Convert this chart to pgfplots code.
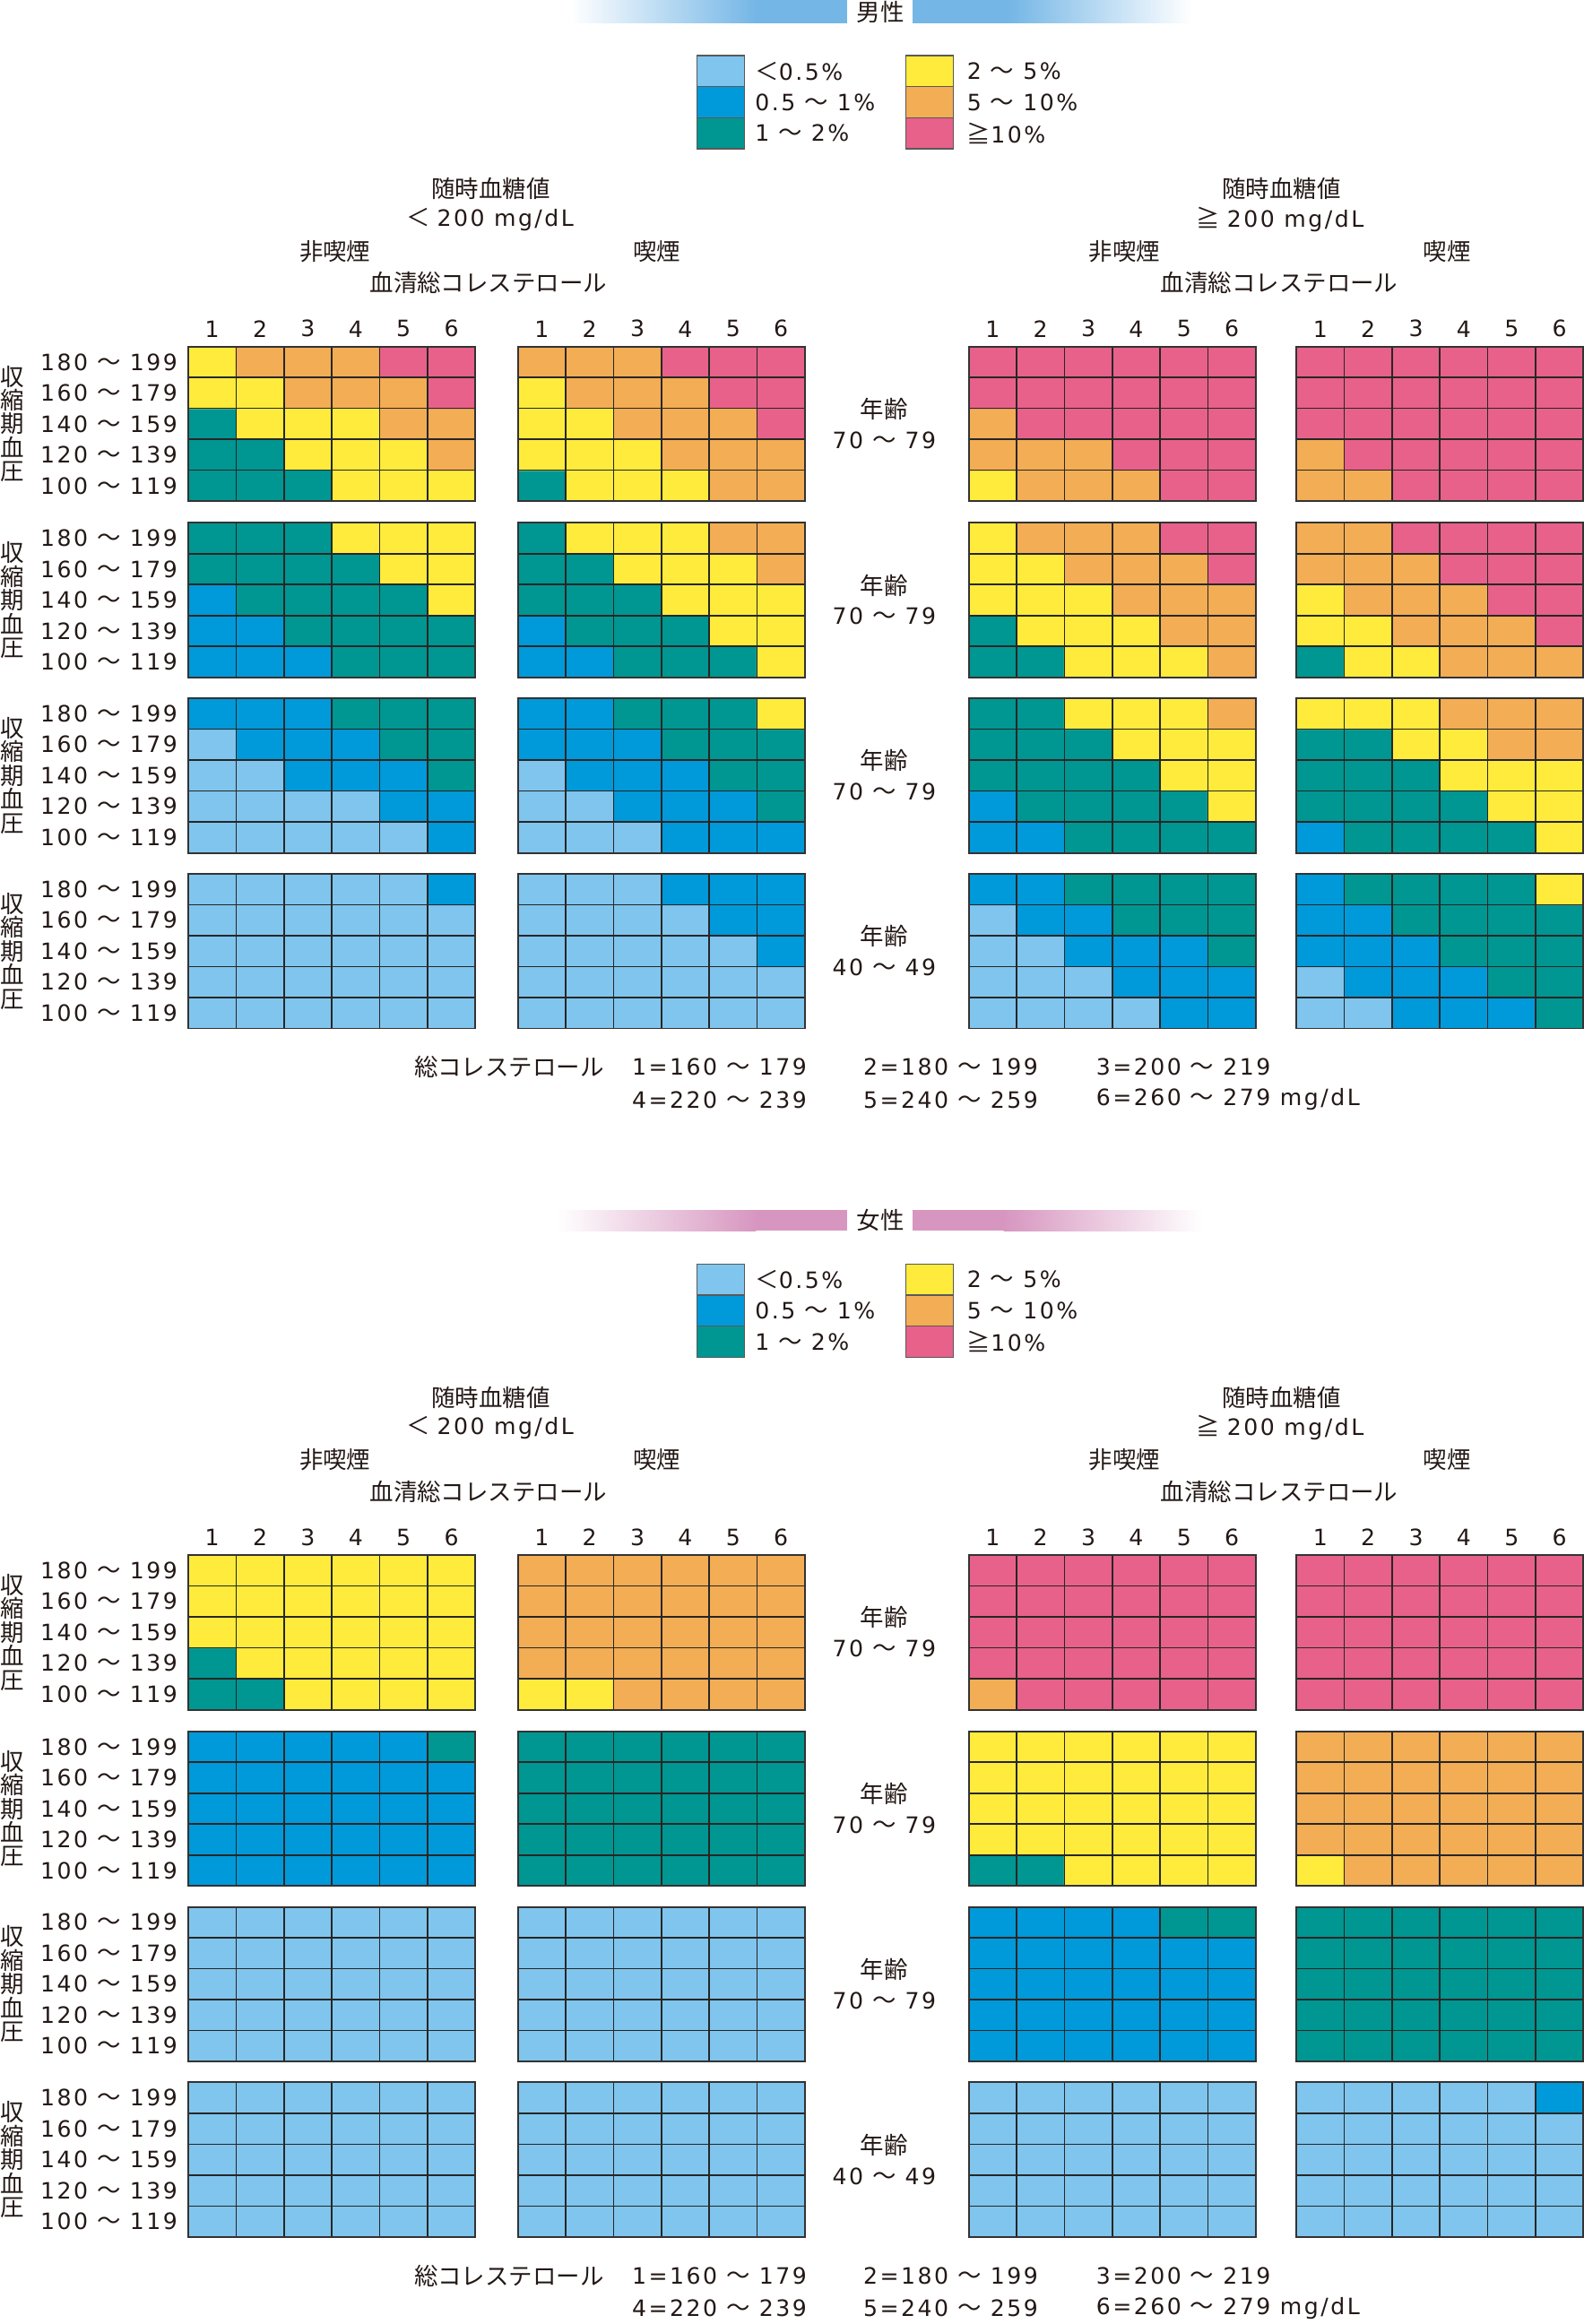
\documentclass[border=0pt]{standalone}
\usepackage{fontspec}
\setmainfont{Noto Sans CJK JP}
\newfontfamily\dnum[Scale=0.95,LetterSpace=10]{DejaVu Sans}
\usepackage{pgfplots}
\pgfplotsset{compat=1.18}
\definecolor{c0}{RGB}{128,197,237}
\definecolor{c1}{RGB}{0,153,217}
\definecolor{c2}{RGB}{0,150,145}
\definecolor{c3}{RGB}{255,235,59}
\definecolor{c4}{RGB}{243,173,84}
\definecolor{c5}{RGB}{232,97,138}
\definecolor{txt}{RGB}{35,24,21}
\definecolor{mblue}{RGB}{116,182,230}
\definecolor{fpink}{RGB}{215,150,192}
\protected\def\rng#1#2{{\dnum #1}\hspace{0.38em}～\hspace{0.38em}{\dnum #2}}
\pgfplotsset{
 colormap={risk}{rgb255=(128,197,237) rgb255=(0,153,217) rgb255=(0,150,145) rgb255=(255,235,59) rgb255=(243,173,84) rgb255=(232,97,138)},
 cellax/.style={
   scale only axis, width=96.8pt, height=52.15pt, anchor=north west,
   xmin=0.5, xmax=6.5, ymin=0.5, ymax=5.5,
   axis on top,
   xtick={1.5,2.5,3.5,4.5,5.5}, ytick={1.5,2.5,3.5,4.5},
   xticklabels={}, yticklabels={},
   major tick length=0pt, tick style={draw=none},
   grid=major, major grid style={draw=black!85, line width=0.5pt},
   axis line style={draw=black!80, line width=0.6pt},
   colormap name=risk, colormap access=direct,
   point meta min=0, point meta max=5,
   tick label style={font=\fontsize{8}{9.6}\selectfont, text=txt},
 },
 topnums/.style={xticklabel pos=upper,
   extra x ticks={1,2,3,4,5,6}, extra x tick labels={1,2,3,4,5,6},
   extra x tick style={grid=none, xticklabel style={font=\fontsize{8}{9.6}\selectfont\dnum, inner sep=0pt, yshift=3pt}}},
 rowlabs/.style={
   extra y ticks={1,2,3,4,5},
   extra y tick labels={{\rng{100}{119}},{\rng{120}{139}},{\rng{140}{159}},{\rng{160}{179}},{\rng{180}{199}}},
   extra y tick style={grid=none, yticklabel style={inner sep=0pt, xshift=-3.5pt}}},
 cells/.style={matrix plot*, mesh/cols=6, point meta=explicit},
}
\begin{document}
\begin{tikzpicture}[x=0.5pt,y=0.5pt, T/.style={inner sep=0pt, text=txt, font=\fontsize{8}{9.6}\selectfont}]
\useasboundingbox (0,0) rectangle (1068,-1568);
% ---- title bars
\shade[left color=white, right color=mblue] (385,0) rectangle (510,-15.7);
\fill[mblue] (509.5,0) rectangle (571.5,-15.7);
\fill[mblue] (615.6,0) rectangle (680.5,-15.7);
\shade[left color=mblue, right color=white] (680,0) rectangle (804,-15.7);
\node[T] at (594,-8) {男性};
\shade[left color=white, right color=fpink] (376,-816.4) rectangle (510,-830.5);
\fill[fpink] (509.5,-816.4) rectangle (571.5,-830.5);
\fill[fpink] (615.6,-816.4) rectangle (677.5,-830.5);
\shade[left color=fpink, right color=white] (677,-816.4) rectangle (811,-830.5);
\node[T] at (594,-823.4) {女性};
\foreach \o in {0,815.4}{
  % legend
  \fill[c0] (470,{-37.4-\o}) rectangle (502,{-58.4-\o});
  \fill[c1] (470,{-58.4-\o}) rectangle (502,{-79.4-\o});
  \fill[c2] (470,{-79.4-\o}) rectangle (502,{-100.4-\o});
  \fill[c3] (611,{-37.4-\o}) rectangle (643,{-58.4-\o});
  \fill[c4] (611,{-58.4-\o}) rectangle (643,{-79.4-\o});
  \fill[c5] (611,{-79.4-\o}) rectangle (643,{-100.4-\o});
  \draw[black!65, line width=0.4pt] (470,{-37.4-\o}) rectangle (502,{-100.4-\o}) (470,{-58.4-\o}) -- (502,{-58.4-\o}) (470,{-79.4-\o}) -- (502,{-79.4-\o});
  \draw[black!65, line width=0.4pt] (611,{-37.4-\o}) rectangle (643,{-100.4-\o}) (611,{-58.4-\o}) -- (643,{-58.4-\o}) (611,{-79.4-\o}) -- (643,{-79.4-\o});
  \node[T,anchor=west] at (509,{-47.9-\o}) {＜{\dnum 0.5\%}};
  \node[T,anchor=west] at (509,{-68.9-\o}) {\rng{0.5}{1\%}};
  \node[T,anchor=west] at (509,{-89.9-\o}) {\rng{1}{2\%}};
  \node[T,anchor=west] at (652,{-47.9-\o}) {\rng{2}{5\%}};
  \node[T,anchor=west] at (652,{-68.9-\o}) {\rng{5}{10\%}};
  \node[T,anchor=west] at (652,{-89.9-\o}) {≧{\dnum 10\%}};
  % headers
  \node[T] at (331,{-127.5-\o}) {随時血糖値};
  \node[T] at (330.5,{-148-\o}) {＜\hspace{0.3em}{\dnum 200 mg/dL}};
  \node[T] at (226,{-169.5-\o}) {非喫煙};
  \node[T] at (443,{-169.5-\o}) {喫煙};
  \node[T] at (329.5,{-191-\o}) {血清総コレステロール};
  \node[T] at (864.5,{-127.5-\o}) {随時血糖値};
  \node[T] at (863.5,{-148-\o}) {≧\hspace{0.3em}{\dnum 200 mg/dL}};
  \node[T] at (758.5,{-169.5-\o}) {非喫煙};
  \node[T] at (976,{-169.5-\o}) {喫煙};
  \node[T] at (863,{-191-\o}) {血清総コレステロール};
  % vertical labels
  \foreach \c in {286,404.9,523.3,641.8}{
    \node[T, align=center, font=\fontsize{8}{8}\selectfont] at (8,{-\c-\o}) {収\\縮\\期\\血\\圧};
  }
  % age labels
  \node[T] at (596.5,{-276-\o}) {年齢};
  \node[T] at (596.5,{-297-\o}) {\rng{70}{79}};
  \node[T] at (596.5,{-394.9-\o}) {年齢};
  \node[T] at (596.5,{-415.9-\o}) {\rng{70}{79}};
  \node[T] at (596.5,{-513.3-\o}) {年齢};
  \node[T] at (596.5,{-534.3-\o}) {\rng{70}{79}};
  \node[T] at (596.5,{-631.8-\o}) {年齢};
  \node[T] at (596.5,{-652.8-\o}) {\rng{40}{49}};
  % footnote
  \node[T,anchor=west] at (279,{-720-\o}) {総コレステロール};
  \node[T,anchor=west] at (426,{-720-\o}) {\rng{1=160}{179}};
  \node[T,anchor=west] at (582,{-720-\o}) {\rng{2=180}{199}};
  \node[T,anchor=west] at (739,{-720-\o}) {\rng{3=200}{219}};
  \node[T,anchor=west] at (426,{-742-\o}) {\rng{4=220}{239}};
  \node[T,anchor=west] at (582,{-742-\o}) {\rng{5=240}{259}};
  \node[T,anchor=west] at (739,{-742-\o}) {\rng{6=260}{279 mg/dL}};
}
% ================= MALE =================
% row 1
\begin{axis}[cellax,topnums,rowlabs,at={(63.5pt,-116.9pt)}]
\addplot[cells] coordinates {
(1,1)[2] (2,1)[2] (3,1)[2] (4,1)[3] (5,1)[3] (6,1)[3]
(1,2)[2] (2,2)[2] (3,2)[3] (4,2)[3] (5,2)[3] (6,2)[4]
(1,3)[2] (2,3)[3] (3,3)[3] (4,3)[3] (5,3)[4] (6,3)[4]
(1,4)[3] (2,4)[3] (3,4)[4] (4,4)[4] (5,4)[4] (6,4)[5]
(1,5)[3] (2,5)[4] (3,5)[4] (4,5)[4] (5,5)[5] (6,5)[5]};
\end{axis}
\begin{axis}[cellax,topnums,at={(174.65pt,-116.9pt)}]
\addplot[cells] coordinates {
(1,1)[2] (2,1)[3] (3,1)[3] (4,1)[3] (5,1)[4] (6,1)[4]
(1,2)[3] (2,2)[3] (3,2)[3] (4,2)[4] (5,2)[4] (6,2)[4]
(1,3)[3] (2,3)[3] (3,3)[4] (4,3)[4] (5,3)[4] (6,3)[5]
(1,4)[3] (2,4)[4] (3,4)[4] (4,4)[4] (5,4)[5] (6,4)[5]
(1,5)[4] (2,5)[4] (3,5)[4] (4,5)[5] (5,5)[5] (6,5)[5]};
\end{axis}
\begin{axis}[cellax,topnums,at={(326.75pt,-116.9pt)}]
\addplot[cells] coordinates {
(1,1)[3] (2,1)[4] (3,1)[4] (4,1)[4] (5,1)[5] (6,1)[5]
(1,2)[4] (2,2)[4] (3,2)[4] (4,2)[5] (5,2)[5] (6,2)[5]
(1,3)[4] (2,3)[5] (3,3)[5] (4,3)[5] (5,3)[5] (6,3)[5]
(1,4)[5] (2,4)[5] (3,4)[5] (4,4)[5] (5,4)[5] (6,4)[5]
(1,5)[5] (2,5)[5] (3,5)[5] (4,5)[5] (5,5)[5] (6,5)[5]};
\end{axis}
\begin{axis}[cellax,topnums,at={(437.25pt,-116.9pt)}]
\addplot[cells] coordinates {
(1,1)[4] (2,1)[4] (3,1)[5] (4,1)[5] (5,1)[5] (6,1)[5]
(1,2)[4] (2,2)[5] (3,2)[5] (4,2)[5] (5,2)[5] (6,2)[5]
(1,3)[5] (2,3)[5] (3,3)[5] (4,3)[5] (5,3)[5] (6,3)[5]
(1,4)[5] (2,4)[5] (3,4)[5] (4,4)[5] (5,4)[5] (6,4)[5]
(1,5)[5] (2,5)[5] (3,5)[5] (4,5)[5] (5,5)[5] (6,5)[5]};
\end{axis}
% row 2
\begin{axis}[cellax,rowlabs,at={(63.5pt,-176.35pt)}]
\addplot[cells] coordinates {
(1,1)[1] (2,1)[1] (3,1)[1] (4,1)[2] (5,1)[2] (6,1)[2]
(1,2)[1] (2,2)[1] (3,2)[2] (4,2)[2] (5,2)[2] (6,2)[2]
(1,3)[1] (2,3)[2] (3,3)[2] (4,3)[2] (5,3)[2] (6,3)[3]
(1,4)[2] (2,4)[2] (3,4)[2] (4,4)[2] (5,4)[3] (6,4)[3]
(1,5)[2] (2,5)[2] (3,5)[2] (4,5)[3] (5,5)[3] (6,5)[3]};
\end{axis}
\begin{axis}[cellax,at={(174.65pt,-176.35pt)}]
\addplot[cells] coordinates {
(1,1)[1] (2,1)[1] (3,1)[2] (4,1)[2] (5,1)[2] (6,1)[3]
(1,2)[1] (2,2)[2] (3,2)[2] (4,2)[2] (5,2)[3] (6,2)[3]
(1,3)[2] (2,3)[2] (3,3)[2] (4,3)[3] (5,3)[3] (6,3)[3]
(1,4)[2] (2,4)[2] (3,4)[3] (4,4)[3] (5,4)[3] (6,4)[4]
(1,5)[2] (2,5)[3] (3,5)[3] (4,5)[3] (5,5)[4] (6,5)[4]};
\end{axis}
\begin{axis}[cellax,at={(326.75pt,-176.35pt)}]
\addplot[cells] coordinates {
(1,1)[2] (2,1)[2] (3,1)[3] (4,1)[3] (5,1)[3] (6,1)[4]
(1,2)[2] (2,2)[3] (3,2)[3] (4,2)[3] (5,2)[4] (6,2)[4]
(1,3)[3] (2,3)[3] (3,3)[3] (4,3)[4] (5,3)[4] (6,3)[4]
(1,4)[3] (2,4)[3] (3,4)[4] (4,4)[4] (5,4)[4] (6,4)[5]
(1,5)[3] (2,5)[4] (3,5)[4] (4,5)[4] (5,5)[5] (6,5)[5]};
\end{axis}
\begin{axis}[cellax,at={(437.25pt,-176.35pt)}]
\addplot[cells] coordinates {
(1,1)[2] (2,1)[3] (3,1)[3] (4,1)[4] (5,1)[4] (6,1)[4]
(1,2)[3] (2,2)[3] (3,2)[4] (4,2)[4] (5,2)[4] (6,2)[5]
(1,3)[3] (2,3)[4] (3,3)[4] (4,3)[4] (5,3)[5] (6,3)[5]
(1,4)[4] (2,4)[4] (3,4)[4] (4,4)[5] (5,4)[5] (6,4)[5]
(1,5)[4] (2,5)[4] (3,5)[5] (4,5)[5] (5,5)[5] (6,5)[5]};
\end{axis}
% row 3
\begin{axis}[cellax,rowlabs,at={(63.5pt,-235.55pt)}]
\addplot[cells] coordinates {
(1,1)[0] (2,1)[0] (3,1)[0] (4,1)[0] (5,1)[0] (6,1)[1]
(1,2)[0] (2,2)[0] (3,2)[0] (4,2)[0] (5,2)[1] (6,2)[1]
(1,3)[0] (2,3)[0] (3,3)[1] (4,3)[1] (5,3)[1] (6,3)[2]
(1,4)[0] (2,4)[1] (3,4)[1] (4,4)[1] (5,4)[2] (6,4)[2]
(1,5)[1] (2,5)[1] (3,5)[1] (4,5)[2] (5,5)[2] (6,5)[2]};
\end{axis}
\begin{axis}[cellax,at={(174.65pt,-235.55pt)}]
\addplot[cells] coordinates {
(1,1)[0] (2,1)[0] (3,1)[0] (4,1)[1] (5,1)[1] (6,1)[1]
(1,2)[0] (2,2)[0] (3,2)[1] (4,2)[1] (5,2)[1] (6,2)[2]
(1,3)[0] (2,3)[1] (3,3)[1] (4,3)[1] (5,3)[2] (6,3)[2]
(1,4)[1] (2,4)[1] (3,4)[1] (4,4)[2] (5,4)[2] (6,4)[2]
(1,5)[1] (2,5)[1] (3,5)[2] (4,5)[2] (5,5)[2] (6,5)[3]};
\end{axis}
\begin{axis}[cellax,at={(326.75pt,-235.55pt)}]
\addplot[cells] coordinates {
(1,1)[1] (2,1)[1] (3,1)[2] (4,1)[2] (5,1)[2] (6,1)[2]
(1,2)[1] (2,2)[2] (3,2)[2] (4,2)[2] (5,2)[2] (6,2)[3]
(1,3)[2] (2,3)[2] (3,3)[2] (4,3)[2] (5,3)[3] (6,3)[3]
(1,4)[2] (2,4)[2] (3,4)[2] (4,4)[3] (5,4)[3] (6,4)[3]
(1,5)[2] (2,5)[2] (3,5)[3] (4,5)[3] (5,5)[3] (6,5)[4]};
\end{axis}
\begin{axis}[cellax,at={(437.25pt,-235.55pt)}]
\addplot[cells] coordinates {
(1,1)[1] (2,1)[2] (3,1)[2] (4,1)[2] (5,1)[2] (6,1)[3]
(1,2)[2] (2,2)[2] (3,2)[2] (4,2)[2] (5,2)[3] (6,2)[3]
(1,3)[2] (2,3)[2] (3,3)[2] (4,3)[3] (5,3)[3] (6,3)[3]
(1,4)[2] (2,4)[2] (3,4)[3] (4,4)[3] (5,4)[4] (6,4)[4]
(1,5)[3] (2,5)[3] (3,5)[3] (4,5)[4] (5,5)[4] (6,5)[4]};
\end{axis}
% row 4
\begin{axis}[cellax,rowlabs,at={(63.5pt,-294.8pt)}]
\addplot[cells] coordinates {
(1,1)[0] (2,1)[0] (3,1)[0] (4,1)[0] (5,1)[0] (6,1)[0]
(1,2)[0] (2,2)[0] (3,2)[0] (4,2)[0] (5,2)[0] (6,2)[0]
(1,3)[0] (2,3)[0] (3,3)[0] (4,3)[0] (5,3)[0] (6,3)[0]
(1,4)[0] (2,4)[0] (3,4)[0] (4,4)[0] (5,4)[0] (6,4)[0]
(1,5)[0] (2,5)[0] (3,5)[0] (4,5)[0] (5,5)[0] (6,5)[1]};
\end{axis}
\begin{axis}[cellax,at={(174.65pt,-294.8pt)}]
\addplot[cells] coordinates {
(1,1)[0] (2,1)[0] (3,1)[0] (4,1)[0] (5,1)[0] (6,1)[0]
(1,2)[0] (2,2)[0] (3,2)[0] (4,2)[0] (5,2)[0] (6,2)[0]
(1,3)[0] (2,3)[0] (3,3)[0] (4,3)[0] (5,3)[0] (6,3)[1]
(1,4)[0] (2,4)[0] (3,4)[0] (4,4)[0] (5,4)[1] (6,4)[1]
(1,5)[0] (2,5)[0] (3,5)[0] (4,5)[1] (5,5)[1] (6,5)[1]};
\end{axis}
\begin{axis}[cellax,at={(326.75pt,-294.8pt)}]
\addplot[cells] coordinates {
(1,1)[0] (2,1)[0] (3,1)[0] (4,1)[0] (5,1)[1] (6,1)[1]
(1,2)[0] (2,2)[0] (3,2)[0] (4,2)[1] (5,2)[1] (6,2)[1]
(1,3)[0] (2,3)[0] (3,3)[1] (4,3)[1] (5,3)[1] (6,3)[2]
(1,4)[0] (2,4)[1] (3,4)[1] (4,4)[2] (5,4)[2] (6,4)[2]
(1,5)[1] (2,5)[1] (3,5)[2] (4,5)[2] (5,5)[2] (6,5)[2]};
\end{axis}
\begin{axis}[cellax,at={(437.25pt,-294.8pt)}]
\addplot[cells] coordinates {
(1,1)[0] (2,1)[0] (3,1)[1] (4,1)[1] (5,1)[1] (6,1)[2]
(1,2)[0] (2,2)[1] (3,2)[1] (4,2)[1] (5,2)[2] (6,2)[2]
(1,3)[1] (2,3)[1] (3,3)[1] (4,3)[2] (5,3)[2] (6,3)[2]
(1,4)[1] (2,4)[1] (3,4)[2] (4,4)[2] (5,4)[2] (6,4)[2]
(1,5)[1] (2,5)[2] (3,5)[2] (4,5)[2] (5,5)[2] (6,5)[3]};
\end{axis}
% ================= FEMALE =================
% row 1
\begin{axis}[cellax,topnums,rowlabs,at={(63.5pt,-524.6pt)}]
\addplot[cells] coordinates {
(1,1)[2] (2,1)[2] (3,1)[3] (4,1)[3] (5,1)[3] (6,1)[3]
(1,2)[2] (2,2)[3] (3,2)[3] (4,2)[3] (5,2)[3] (6,2)[3]
(1,3)[3] (2,3)[3] (3,3)[3] (4,3)[3] (5,3)[3] (6,3)[3]
(1,4)[3] (2,4)[3] (3,4)[3] (4,4)[3] (5,4)[3] (6,4)[3]
(1,5)[3] (2,5)[3] (3,5)[3] (4,5)[3] (5,5)[3] (6,5)[3]};
\end{axis}
\begin{axis}[cellax,topnums,at={(174.65pt,-524.6pt)}]
\addplot[cells] coordinates {
(1,1)[3] (2,1)[3] (3,1)[4] (4,1)[4] (5,1)[4] (6,1)[4]
(1,2)[4] (2,2)[4] (3,2)[4] (4,2)[4] (5,2)[4] (6,2)[4]
(1,3)[4] (2,3)[4] (3,3)[4] (4,3)[4] (5,3)[4] (6,3)[4]
(1,4)[4] (2,4)[4] (3,4)[4] (4,4)[4] (5,4)[4] (6,4)[4]
(1,5)[4] (2,5)[4] (3,5)[4] (4,5)[4] (5,5)[4] (6,5)[4]};
\end{axis}
\begin{axis}[cellax,topnums,at={(326.75pt,-524.6pt)}]
\addplot[cells] coordinates {
(1,1)[4] (2,1)[5] (3,1)[5] (4,1)[5] (5,1)[5] (6,1)[5]
(1,2)[5] (2,2)[5] (3,2)[5] (4,2)[5] (5,2)[5] (6,2)[5]
(1,3)[5] (2,3)[5] (3,3)[5] (4,3)[5] (5,3)[5] (6,3)[5]
(1,4)[5] (2,4)[5] (3,4)[5] (4,4)[5] (5,4)[5] (6,4)[5]
(1,5)[5] (2,5)[5] (3,5)[5] (4,5)[5] (5,5)[5] (6,5)[5]};
\end{axis}
\begin{axis}[cellax,topnums,at={(437.25pt,-524.6pt)}]
\addplot[cells] coordinates {
(1,1)[5] (2,1)[5] (3,1)[5] (4,1)[5] (5,1)[5] (6,1)[5]
(1,2)[5] (2,2)[5] (3,2)[5] (4,2)[5] (5,2)[5] (6,2)[5]
(1,3)[5] (2,3)[5] (3,3)[5] (4,3)[5] (5,3)[5] (6,3)[5]
(1,4)[5] (2,4)[5] (3,4)[5] (4,4)[5] (5,4)[5] (6,4)[5]
(1,5)[5] (2,5)[5] (3,5)[5] (4,5)[5] (5,5)[5] (6,5)[5]};
\end{axis}
% row 2
\begin{axis}[cellax,rowlabs,at={(63.5pt,-584.05pt)}]
\addplot[cells] coordinates {
(1,1)[1] (2,1)[1] (3,1)[1] (4,1)[1] (5,1)[1] (6,1)[1]
(1,2)[1] (2,2)[1] (3,2)[1] (4,2)[1] (5,2)[1] (6,2)[1]
(1,3)[1] (2,3)[1] (3,3)[1] (4,3)[1] (5,3)[1] (6,3)[1]
(1,4)[1] (2,4)[1] (3,4)[1] (4,4)[1] (5,4)[1] (6,4)[1]
(1,5)[1] (2,5)[1] (3,5)[1] (4,5)[1] (5,5)[1] (6,5)[2]};
\end{axis}
\begin{axis}[cellax,at={(174.65pt,-584.05pt)}]
\addplot[cells] coordinates {
(1,1)[2] (2,1)[2] (3,1)[2] (4,1)[2] (5,1)[2] (6,1)[2]
(1,2)[2] (2,2)[2] (3,2)[2] (4,2)[2] (5,2)[2] (6,2)[2]
(1,3)[2] (2,3)[2] (3,3)[2] (4,3)[2] (5,3)[2] (6,3)[2]
(1,4)[2] (2,4)[2] (3,4)[2] (4,4)[2] (5,4)[2] (6,4)[2]
(1,5)[2] (2,5)[2] (3,5)[2] (4,5)[2] (5,5)[2] (6,5)[2]};
\end{axis}
\begin{axis}[cellax,at={(326.75pt,-584.05pt)}]
\addplot[cells] coordinates {
(1,1)[2] (2,1)[2] (3,1)[3] (4,1)[3] (5,1)[3] (6,1)[3]
(1,2)[3] (2,2)[3] (3,2)[3] (4,2)[3] (5,2)[3] (6,2)[3]
(1,3)[3] (2,3)[3] (3,3)[3] (4,3)[3] (5,3)[3] (6,3)[3]
(1,4)[3] (2,4)[3] (3,4)[3] (4,4)[3] (5,4)[3] (6,4)[3]
(1,5)[3] (2,5)[3] (3,5)[3] (4,5)[3] (5,5)[3] (6,5)[3]};
\end{axis}
\begin{axis}[cellax,at={(437.25pt,-584.05pt)}]
\addplot[cells] coordinates {
(1,1)[3] (2,1)[4] (3,1)[4] (4,1)[4] (5,1)[4] (6,1)[4]
(1,2)[4] (2,2)[4] (3,2)[4] (4,2)[4] (5,2)[4] (6,2)[4]
(1,3)[4] (2,3)[4] (3,3)[4] (4,3)[4] (5,3)[4] (6,3)[4]
(1,4)[4] (2,4)[4] (3,4)[4] (4,4)[4] (5,4)[4] (6,4)[4]
(1,5)[4] (2,5)[4] (3,5)[4] (4,5)[4] (5,5)[4] (6,5)[4]};
\end{axis}
% row 3
\begin{axis}[cellax,rowlabs,at={(63.5pt,-643.25pt)}]
\addplot[cells] coordinates {
(1,1)[0] (2,1)[0] (3,1)[0] (4,1)[0] (5,1)[0] (6,1)[0]
(1,2)[0] (2,2)[0] (3,2)[0] (4,2)[0] (5,2)[0] (6,2)[0]
(1,3)[0] (2,3)[0] (3,3)[0] (4,3)[0] (5,3)[0] (6,3)[0]
(1,4)[0] (2,4)[0] (3,4)[0] (4,4)[0] (5,4)[0] (6,4)[0]
(1,5)[0] (2,5)[0] (3,5)[0] (4,5)[0] (5,5)[0] (6,5)[0]};
\end{axis}
\begin{axis}[cellax,at={(174.65pt,-643.25pt)}]
\addplot[cells] coordinates {
(1,1)[0] (2,1)[0] (3,1)[0] (4,1)[0] (5,1)[0] (6,1)[0]
(1,2)[0] (2,2)[0] (3,2)[0] (4,2)[0] (5,2)[0] (6,2)[0]
(1,3)[0] (2,3)[0] (3,3)[0] (4,3)[0] (5,3)[0] (6,3)[0]
(1,4)[0] (2,4)[0] (3,4)[0] (4,4)[0] (5,4)[0] (6,4)[0]
(1,5)[0] (2,5)[0] (3,5)[0] (4,5)[0] (5,5)[0] (6,5)[0]};
\end{axis}
\begin{axis}[cellax,at={(326.75pt,-643.25pt)}]
\addplot[cells] coordinates {
(1,1)[1] (2,1)[1] (3,1)[1] (4,1)[1] (5,1)[1] (6,1)[1]
(1,2)[1] (2,2)[1] (3,2)[1] (4,2)[1] (5,2)[1] (6,2)[1]
(1,3)[1] (2,3)[1] (3,3)[1] (4,3)[1] (5,3)[1] (6,3)[1]
(1,4)[1] (2,4)[1] (3,4)[1] (4,4)[1] (5,4)[1] (6,4)[1]
(1,5)[1] (2,5)[1] (3,5)[1] (4,5)[1] (5,5)[2] (6,5)[2]};
\end{axis}
\begin{axis}[cellax,at={(437.25pt,-643.25pt)}]
\addplot[cells] coordinates {
(1,1)[2] (2,1)[2] (3,1)[2] (4,1)[2] (5,1)[2] (6,1)[2]
(1,2)[2] (2,2)[2] (3,2)[2] (4,2)[2] (5,2)[2] (6,2)[2]
(1,3)[2] (2,3)[2] (3,3)[2] (4,3)[2] (5,3)[2] (6,3)[2]
(1,4)[2] (2,4)[2] (3,4)[2] (4,4)[2] (5,4)[2] (6,4)[2]
(1,5)[2] (2,5)[2] (3,5)[2] (4,5)[2] (5,5)[2] (6,5)[2]};
\end{axis}
% row 4
\begin{axis}[cellax,rowlabs,at={(63.5pt,-702.5pt)}]
\addplot[cells] coordinates {
(1,1)[0] (2,1)[0] (3,1)[0] (4,1)[0] (5,1)[0] (6,1)[0]
(1,2)[0] (2,2)[0] (3,2)[0] (4,2)[0] (5,2)[0] (6,2)[0]
(1,3)[0] (2,3)[0] (3,3)[0] (4,3)[0] (5,3)[0] (6,3)[0]
(1,4)[0] (2,4)[0] (3,4)[0] (4,4)[0] (5,4)[0] (6,4)[0]
(1,5)[0] (2,5)[0] (3,5)[0] (4,5)[0] (5,5)[0] (6,5)[0]};
\end{axis}
\begin{axis}[cellax,at={(174.65pt,-702.5pt)}]
\addplot[cells] coordinates {
(1,1)[0] (2,1)[0] (3,1)[0] (4,1)[0] (5,1)[0] (6,1)[0]
(1,2)[0] (2,2)[0] (3,2)[0] (4,2)[0] (5,2)[0] (6,2)[0]
(1,3)[0] (2,3)[0] (3,3)[0] (4,3)[0] (5,3)[0] (6,3)[0]
(1,4)[0] (2,4)[0] (3,4)[0] (4,4)[0] (5,4)[0] (6,4)[0]
(1,5)[0] (2,5)[0] (3,5)[0] (4,5)[0] (5,5)[0] (6,5)[0]};
\end{axis}
\begin{axis}[cellax,at={(326.75pt,-702.5pt)}]
\addplot[cells] coordinates {
(1,1)[0] (2,1)[0] (3,1)[0] (4,1)[0] (5,1)[0] (6,1)[0]
(1,2)[0] (2,2)[0] (3,2)[0] (4,2)[0] (5,2)[0] (6,2)[0]
(1,3)[0] (2,3)[0] (3,3)[0] (4,3)[0] (5,3)[0] (6,3)[0]
(1,4)[0] (2,4)[0] (3,4)[0] (4,4)[0] (5,4)[0] (6,4)[0]
(1,5)[0] (2,5)[0] (3,5)[0] (4,5)[0] (5,5)[0] (6,5)[0]};
\end{axis}
\begin{axis}[cellax,at={(437.25pt,-702.5pt)}]
\addplot[cells] coordinates {
(1,1)[0] (2,1)[0] (3,1)[0] (4,1)[0] (5,1)[0] (6,1)[0]
(1,2)[0] (2,2)[0] (3,2)[0] (4,2)[0] (5,2)[0] (6,2)[0]
(1,3)[0] (2,3)[0] (3,3)[0] (4,3)[0] (5,3)[0] (6,3)[0]
(1,4)[0] (2,4)[0] (3,4)[0] (4,4)[0] (5,4)[0] (6,4)[0]
(1,5)[0] (2,5)[0] (3,5)[0] (4,5)[0] (5,5)[0] (6,5)[1]};
\end{axis}
\end{tikzpicture}
\end{document}
